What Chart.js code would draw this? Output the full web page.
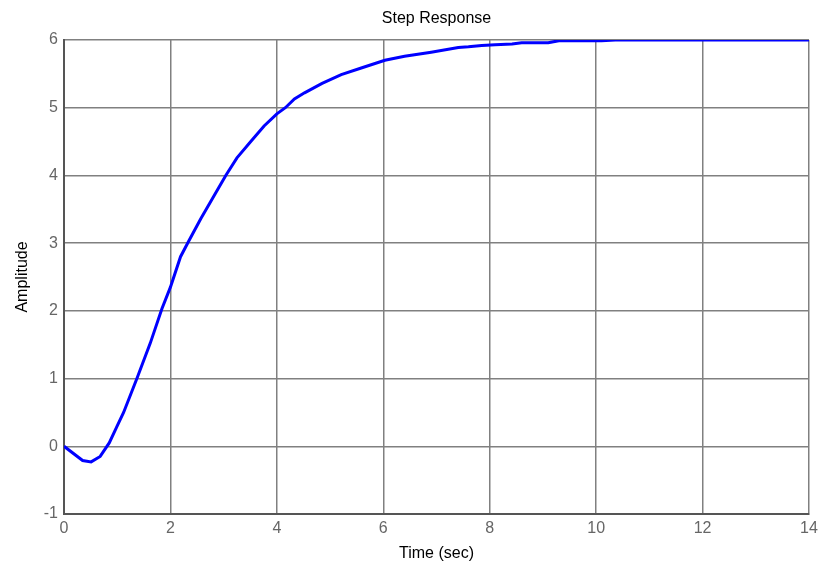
<!DOCTYPE html>
<html>
<head>
<meta charset="utf-8">
<script src="https://cdn.jsdelivr.net/npm/chart.js@4/dist/chart.umd.min.js"></script>
<style>
  html, body { margin: 0; padding: 0; background: #fff; }
  #wrap { width: 819px; height: 567px; }
</style>
</head>
<body>
<div id="wrap"><canvas id="c" width="819" height="567"></canvas></div>
<script>
/* ---- values ---- */
const timeSec = [0, 0.35, 0.51, 0.68, 0.85, 1.0, 1.12, 1.37, 1.62, 1.84, 2.0, 2.19, 2.35, 2.57, 2.82,
  3.04, 3.25, 3.51, 3.76, 4.0, 4.16, 4.33, 4.52, 4.85, 5.21, 5.6, 6.03, 6.4, 6.9, 7.41, 7.6, 7.85,
  8.1, 8.42, 8.6, 9.1, 9.3, 10.1, 10.36, 12, 14];
const amplitude = [0, -0.21, -0.23, -0.15, 0.05, 0.3, 0.5, 1.0, 1.52, 2.03, 2.35, 2.8, 3.04, 3.36, 3.7,
  4.0, 4.26, 4.5, 4.73, 4.91, 5.0, 5.13, 5.22, 5.36, 5.49, 5.59, 5.7, 5.76, 5.82, 5.89, 5.9, 5.92,
  5.93, 5.94, 5.96, 5.96, 5.99, 5.99, 6.0, 6.0, 6.0];
const xTicks = [0, 2, 4, 6, 8, 10, 12, 14];
const yTicks = [-1, 0, 1, 2, 3, 4, 5, 6];

const FONT = "'Liberation Sans', Arial, sans-serif";
const GRID = '#808080';

// title centred over the plot area, like the MATLAB figure
const plotTitle = {
  id: 'plotTitle',
  afterDraw(chart) {
    const { ctx, chartArea } = chart;
    ctx.save();
    ctx.fillStyle = '#000';
    ctx.font = `16px ${FONT}`;
    ctx.textAlign = 'center';
    ctx.textBaseline = 'middle';
    ctx.fillText('Step Response', (chartArea.left + chartArea.right) / 2, 19);
    ctx.restore();
  },
};

new Chart(document.getElementById('c'), {
  type: 'line',
  data: {
    datasets: [{
      data: timeSec.map((t, i) => ({ x: t, y: amplitude[i] })),
      borderColor: '#0000ff',
      borderWidth: 3,
      pointRadius: 0,
      tension: 0,
      fill: false,
    }],
  },
  options: {
    responsive: false,
    animation: false,
    layout: { padding: { top: 40, right: 0, left: 0, bottom: 0 } },
    plugins: { legend: { display: false }, tooltip: { enabled: false } },
    scales: {
      x: {
        type: 'linear', min: 0, max: 14,
        afterBuildTicks: (s) => { s.ticks = xTicks.map((v) => ({ value: v })); },
        afterFit: (s) => { s.height = 53; s.paddingRight = 10; s.paddingLeft = 0; },
        grid: { color: GRID, lineWidth: 1.5, drawTicks: false },
        border: { color: '#555', width: 2 },
        ticks: { color: '#666', font: { family: FONT, size: 16 }, padding: 5, maxRotation: 0 },
        title: { display: true, text: 'Time (sec)', color: '#000', font: { family: FONT, size: 16 }, padding: { top: 0 } },
      },
      y: {
        type: 'linear', min: -1, max: 6,
        afterBuildTicks: (s) => { s.ticks = yTicks.map((v) => ({ value: v })); },
        afterFit: (s) => { s.width = 64; },
        grid: { color: GRID, lineWidth: 1.5, drawTicks: false },
        border: { color: '#555', width: 2 },
        ticks: { color: '#666', font: { family: FONT, size: 16 }, padding: 6 },
        title: { display: true, text: 'Amplitude', color: '#000', font: { family: FONT, size: 16 }, padding: { top: 13, bottom: 0 } },
      },
    },
  },
  plugins: [plotTitle],
});
</script>
</body>
</html>
